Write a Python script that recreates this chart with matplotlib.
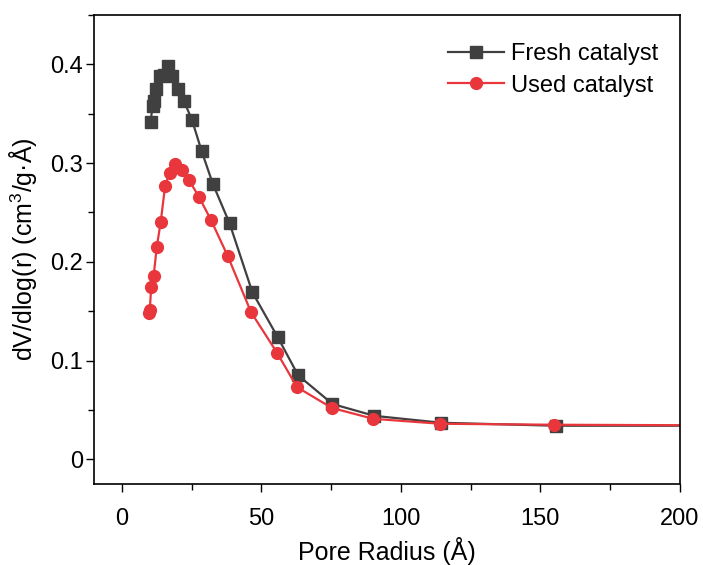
import numpy as np
import matplotlib.pyplot as plt
from matplotlib.ticker import MultipleLocator

plt.rcParams['font.family'] = ['Liberation Sans', 'DejaVu Sans']
plt.rcParams['mathtext.fontset'] = 'custom'
plt.rcParams['mathtext.rm'] = 'Liberation Sans'

# Pore size distribution (BJH)
fresh_r = [10.3, 11.0, 11.5, 12.2, 13.6, 15.2, 16.4, 18.0, 20.0, 22.2, 25.1,
           28.6, 32.6, 38.6, 46.8, 55.8, 63.2, 75.5, 90.5, 114.5, 155.5, 250]
fresh_v = [0.342, 0.358, 0.363, 0.375, 0.388, 0.389, 0.398, 0.388, 0.375, 0.363, 0.344,
           0.312, 0.279, 0.239, 0.169, 0.124, 0.085, 0.056, 0.044, 0.037, 0.034, 0.034]

used_r = [9.8, 10.0, 10.5, 11.4, 12.5, 13.9, 15.5, 17.1, 19.1, 21.5, 24.0,
          27.6, 32.0, 38.0, 46.3, 55.6, 62.8, 75.3, 90.1, 114.2, 154.8, 250]
used_v = [0.148, 0.151, 0.174, 0.186, 0.215, 0.240, 0.277, 0.290, 0.299, 0.293, 0.283,
          0.266, 0.242, 0.2055, 0.149, 0.108, 0.073, 0.052, 0.041, 0.036, 0.035, 0.034]

fig = plt.figure(figsize=(7.03, 5.65), dpi=100)
ax = fig.add_axes([0.1337, 0.1434, 0.8333, 0.8301])

ax.plot(fresh_r, fresh_v, color='#404040', marker='s', markersize=8, lw=1.6,
        label='Fresh catalyst')
ax.plot(used_r, used_v, color='#E8363C', marker='o', markersize=8.5, lw=1.6,
        label='Used catalyst')

ax.set_xlim(-10, 200)
ax.set_ylim(-0.025, 0.45)
ax.xaxis.set_major_locator(MultipleLocator(50))
ax.xaxis.set_minor_locator(MultipleLocator(25))
ax.yaxis.set_major_locator(MultipleLocator(0.1))
ax.yaxis.set_minor_locator(MultipleLocator(0.05))
ax.set_yticks([0, 0.1, 0.2, 0.3, 0.4])
ax.set_yticklabels(['0', '0.1', '0.2', '0.3', '0.4'])

ax.tick_params(which='both', direction='out', labelsize=17, width=1.0)
ax.tick_params(which='major', length=6)
ax.tick_params(which='minor', length=4)
ax.tick_params(axis='x', which='major', pad=11)
ax.tick_params(axis='y', which='major', pad=2)
for s in ax.spines.values():
    s.set_linewidth(1.2)

ax.set_xlabel('Pore Radius (Å)', fontsize=18, labelpad=5)
ax.set_ylabel('dV/dlog(r) (cm$^{3}$/g·Å)', fontsize=18, labelpad=8)

ax.legend(loc='upper right', frameon=False, fontsize=17, handlelength=2.4,
          bbox_to_anchor=(1.0, 0.985), labelspacing=0.4, handletextpad=0.3)

fig.savefig('out.png', dpi=100)
